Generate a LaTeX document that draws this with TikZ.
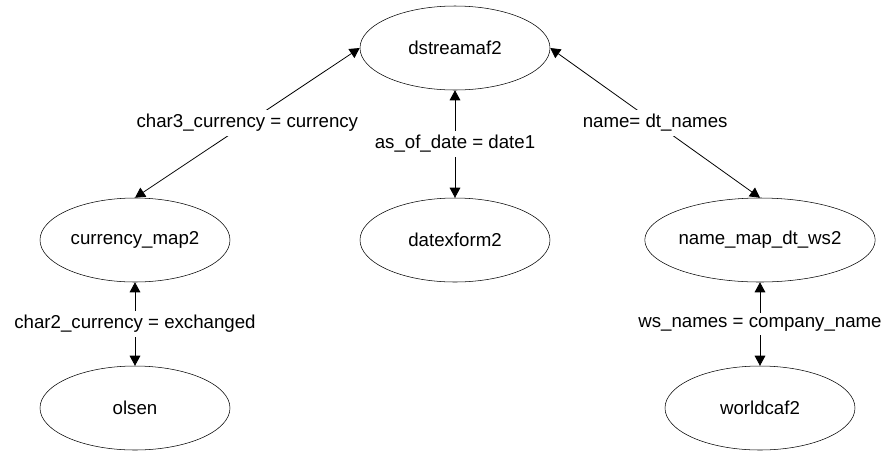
\documentclass[tikz,border=0pt]{standalone}
\usepackage{fontspec}
\setmainfont{Liberation Sans}
\usetikzlibrary{arrows.meta,shapes.geometric}

\begin{document}
\begin{tikzpicture}[node distance={144pt},
    tbl/.style={draw, ellipse, inner sep=0pt, minimum width=142.5pt, minimum height=63pt},
    relarrow/.style={{Triangle[length=7.5pt,width=8pt]}-{Triangle[length=7.5pt,width=8pt]}, line width=0.6pt},
    cond/.style={fill=white, midway},
    font=\fontsize{14}{17}\selectfont]
    \useasboundingbox (-341.25pt,36pt) rectangle (322.5pt,-302.25pt);
    \node (dstream) [tbl] {dstreamaf2};
    \node (datexf) [tbl, below of=dstream] {datexform2};
    \node (curmap) [tbl, left of=datexf, node distance=240pt] {currency\_map2};
    \node (namemap) [tbl, right of=datexf, node distance=228.75pt, minimum width=162pt] {name\_map\_dt\_ws2};
    \node (olsen) [tbl, below of=curmap, node distance=126pt] {olsen};
    \node (worldcaf) [tbl, below of=namemap, node distance=126pt] {worldcaf2};

    \draw [relarrow] (dstream.west) -- node [cond] {char3\_currency = currency} (curmap.north);
    \draw [relarrow] (dstream.south) -- node [cond] {as\_of\_date = date1} (datexf.north);
    \draw [relarrow] (dstream.east) -- node [cond] {name= dt\_names} (namemap.north);
    \draw [relarrow] (curmap.south) -- node [cond] {char2\_currency = exchanged} (olsen.north);
    \draw [relarrow] (namemap.south) -- node [cond] {ws\_names = company\_name} (worldcaf.north);
  \end{tikzpicture}
\end{document}
